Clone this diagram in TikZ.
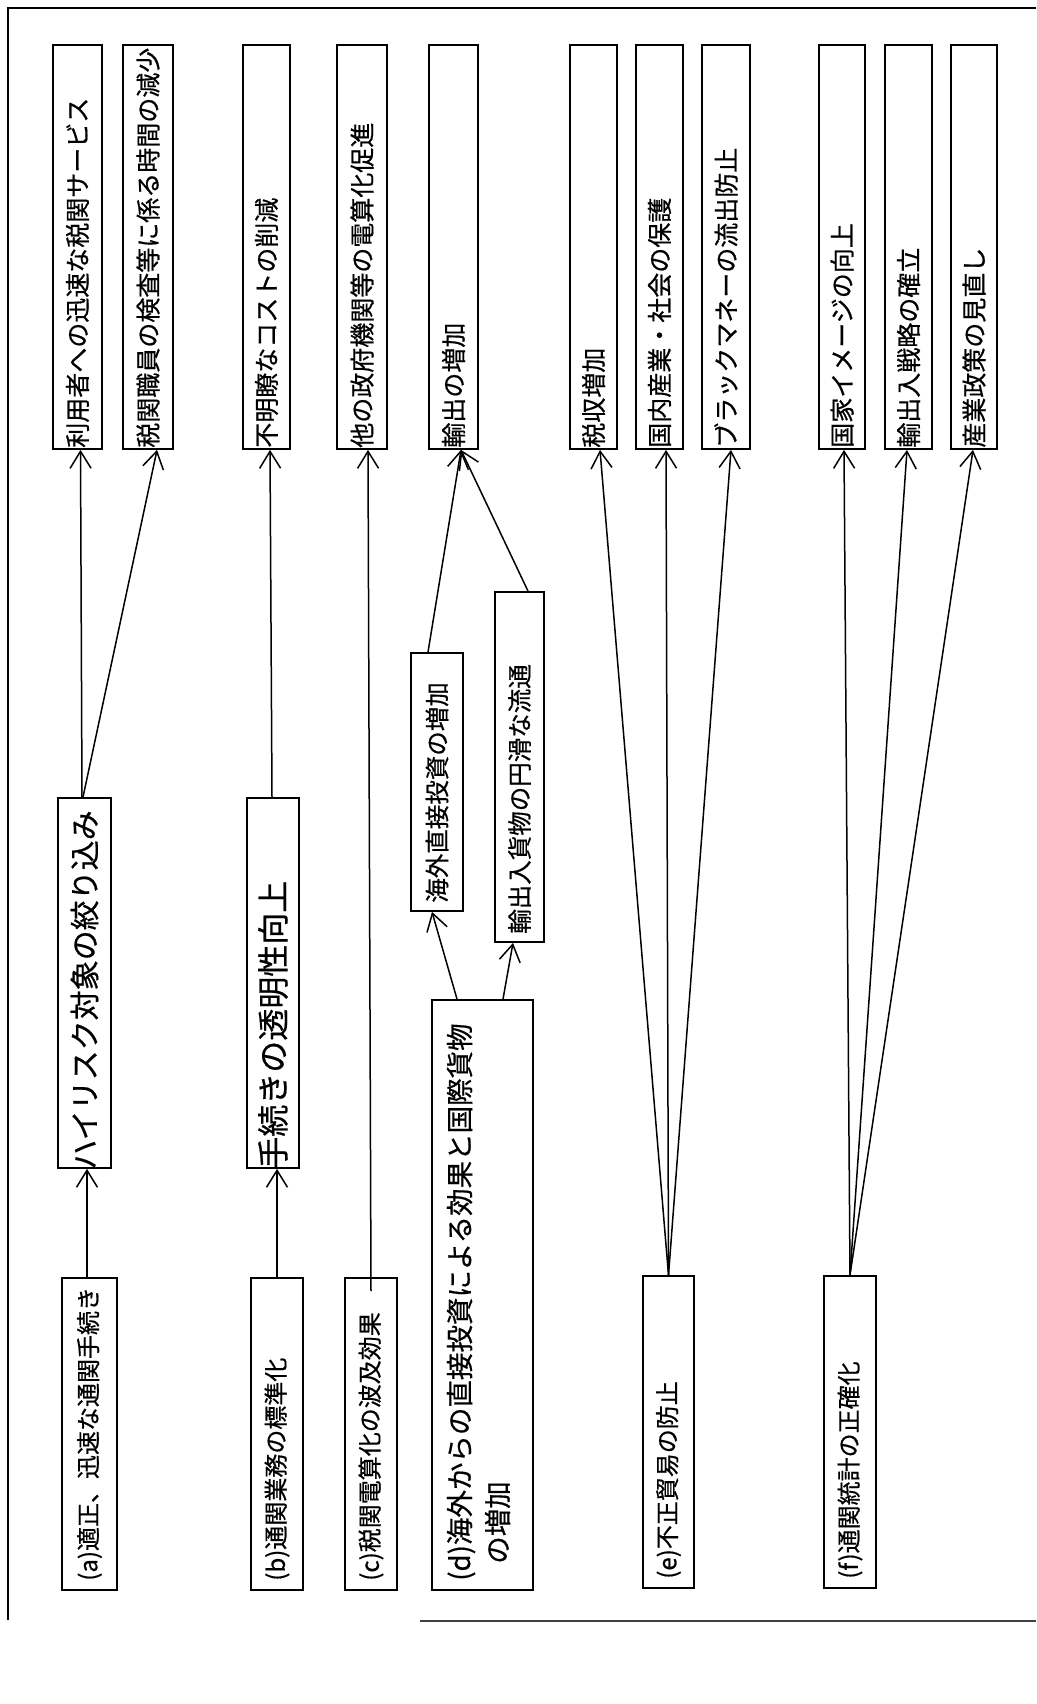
\documentclass[tikz,border=0pt]{standalone}
\usepackage{fontspec}
\setmainfont{Noto Sans CJK JP}[FakeBold=0.6]
\usetikzlibrary{arrows.meta}
\tikzset{
  bx/.style={draw, line width=1.8pt, rectangle, inner sep=0pt},
  lbl/.style={rotate=90, anchor=west, inner sep=0pt},
  tfont/.style={font=\fontsize{25}{30}\selectfont},
  sfont/.style={font=\fontsize{24}{30}\selectfont},
  arr/.style={line width=1.5pt, -{Straight Barb[length=17pt,width=21pt,line width=1.5pt]}},
  frm/.style={line width=1.5pt}
}
\begin{document}
\begin{tikzpicture}[x=1pt,y=-1pt]
\useasboundingbox (0,0) rectangle (1036,1704);
% frame
\coordinate (fr1) at (1036,8);
\coordinate (fr2) at (8,8);
\coordinate (fr3) at (8,1620);
\coordinate (fr4) at (420,1621);
\coordinate (fr5) at (1036,1621);
\draw[frm] (fr1) -- (fr2) -- (fr3);
\draw[frm, black!75] (fr4) -- (fr5);

% top row boxes
\node[bx, minimum width=49pt, minimum height=404pt] (t1) at (77.5,247) {};
\node[bx, minimum width=50pt, minimum height=404pt] (t2) at (148,247) {};
\node[bx, minimum width=47pt, minimum height=404pt] (t3) at (266.5,247) {};
\node[bx, minimum width=50pt, minimum height=404pt] (t4) at (362,247) {};
\node[bx, minimum width=49pt, minimum height=404pt] (t5) at (453.5,247) {};
\node[bx, minimum width=47pt, minimum height=404pt] (t6) at (593.5,247) {};
\node[bx, minimum width=47pt, minimum height=404pt] (t7) at (659.5,247) {};
\node[bx, minimum width=48pt, minimum height=404pt] (t8) at (726,247) {};
\node[bx, minimum width=46pt, minimum height=404pt] (t9) at (842,247) {};
\node[bx, minimum width=47pt, minimum height=404pt] (t10) at (908.5,247) {};
\node[bx, minimum width=46pt, minimum height=404pt] (t11) at (974,247) {};

\node[lbl, tfont] (lt1) at ([yshift=2pt]t1.south) {利用者への迅速な税関サービス};
\node[lbl, tfont] (lt2) at ([yshift=2pt]t2.south) {税関職員の検査等に係る時間の減少};
\node[lbl, tfont] (lt3) at ([yshift=2pt]t3.south) {不明瞭なコストの削減};
\node[lbl, tfont] (lt4) at ([yshift=2pt]t4.south) {他の政府機関等の電算化促進};
\node[lbl, tfont] (lt5) at ([yshift=2pt]t5.south) {輸出の増加};
\node[lbl, tfont] (lt6) at ([yshift=2pt]t6.south) {税収増加};
\node[lbl, tfont] (lt7) at ([yshift=2pt]t7.south) {国内産業・社会の保護};
\node[lbl, tfont] (lt8) at ([yshift=2pt]t8.south) {ブラックマネーの流出防止};
\node[lbl, tfont] (lt9) at ([yshift=2pt]t9.south) {国家イメージの向上};
\node[lbl, tfont] (lt10) at ([yshift=2pt]t10.south) {輸出入戦略の確立};
\node[lbl, tfont] (lt11) at ([yshift=2pt]t11.south) {産業政策の見直し};

% middle boxes
\node[bx, minimum width=53pt, minimum height=370pt] (m1) at (84.5,983) {};
\node[bx, minimum width=52pt, minimum height=370pt] (m2) at (273,983) {};
\node[bx, minimum width=52pt, minimum height=258pt] (m3) at (437,782) {};
\node[bx, minimum width=49pt, minimum height=350pt] (m4) at (519.5,767) {};

\node[lbl, font=\fontsize{30}{36}\selectfont] (lm1) at ([yshift=-1pt]m1.south) {ハイリスク対象の絞り込み};
\node[lbl, font=\fontsize{32}{38}\selectfont] (lm2) at ([yshift=0pt]m2.south) {手続きの透明性向上};
\node[lbl, font=\fontsize{24.5}{30}\selectfont] (lm3) at ([yshift=9pt]m3.south) {海外直接投資の増加};
\node[lbl, font=\fontsize{24.5}{30}\selectfont] (lm4) at ([yshift=9pt]m4.south) {輸出入貨物の円滑な流通};

% source boxes
\node[bx, minimum width=55pt, minimum height=312pt] (a) at (89.5,1434) {};
\node[bx, minimum width=52pt, minimum height=312pt] (b) at (277,1434) {};
\node[bx, minimum width=52pt, minimum height=312pt] (c) at (371,1434) {};
\node[bx, minimum width=101pt, minimum height=590pt] (d) at (482.5,1295) {};
\node[bx, minimum width=51pt, minimum height=312pt] (e) at (668.5,1432) {};
\node[bx, minimum width=52pt, minimum height=312pt] (f) at (850,1432) {};

\node[lbl, sfont] (la) at ([yshift=10pt]a.south) {(a)適正、迅速な通関手続き};
\node[lbl, sfont] (lb) at ([yshift=10pt]b.south) {(b)通関業務の標準化};
\node[lbl, sfont] (lc) at ([yshift=10pt]c.south) {(c)税関電算化の波及効果};
\node[lbl, align=left, font=\fontsize{27.5}{38}\selectfont] (ld) at ([xshift=-4pt,yshift=10pt]d.south) {(d)海外からの直接投資による効果と国際貨物\\\hspace*{17pt}の増加};
\node[lbl, sfont] (le) at ([yshift=10pt]e.south) {(e)不正貿易の防止};
\node[lbl, sfont] (lf) at ([yshift=10pt]f.south) {(f)通関統計の正確化};

% connectors
\draw[arr] ([xshift=-2.5pt]a.north) -- ([xshift=2.5pt]m1.south);
\draw[arr] ([xshift=-2.5pt]m1.north) -- ([xshift=3pt]t1.south);
\draw[arr] ([xshift=-1.5pt]m1.north) -- ([xshift=9pt]t2.south);
\draw[arr] (b.north) -- ([xshift=4pt]m2.south);
\draw[arr] ([xshift=-1pt]m2.north) -- ([xshift=3.5pt]t3.south);
\draw[arr] ([yshift=-14pt]c.north) -- ([xshift=6pt]t4.south);
\draw[arr] ([xshift=-25.5pt]d.north) -- ([xshift=-5pt]m3.south);
\draw[arr] ([xshift=20.5pt]d.north) -- ([xshift=-6.5pt]m4.south);
\draw[arr] ([xshift=-9pt]m3.north) -- ([xshift=7.5pt]t5.south);
\draw[arr] ([xshift=8.5pt]m4.north) -- ([xshift=7.5pt]t5.south);
\draw[arr] (e.north) -- ([xshift=6.5pt]t6.south);
\draw[arr] (e.north) -- ([xshift=6.5pt]t7.south);
\draw[arr] (e.north) -- ([xshift=5pt]t8.south);
\draw[arr] (f.north) -- ([xshift=2pt]t9.south);
\draw[arr] (f.north) -- ([xshift=-1.5pt]t10.south);
\draw[arr] (f.north) -- ([xshift=-1pt]t11.south);
\end{tikzpicture}
\end{document}
